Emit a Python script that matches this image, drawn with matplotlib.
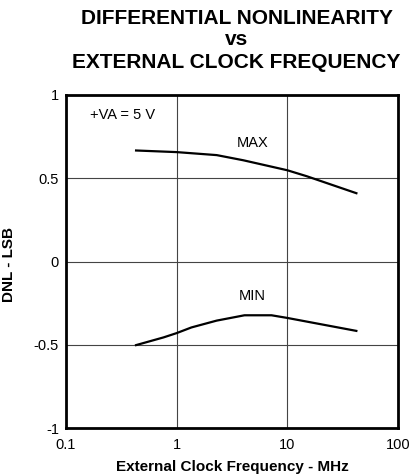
import matplotlib
matplotlib.use("Agg")
import matplotlib.pyplot as plt

plt.rcParams['font.family'] = ['Liberation Sans', 'DejaVu Sans']

# DNL vs external clock frequency (MHz, LSB)
max_freq = [0.42, 1.0, 2.3, 4.0, 10.0, 15.0, 43.0]
max_dnl = [0.667, 0.657, 0.639, 0.608, 0.548, 0.512, 0.408]
min_freq = [0.42, 0.76, 1.0, 1.36, 2.3, 4.1, 7.2, 10.0, 43.0]
min_dnl = [-0.504, -0.456, -0.43, -0.396, -0.355, -0.323, -0.323, -0.339, -0.418]

x_ticks = [0.1, 1, 10, 100]
x_tick_labels = ["0.1", "1", "10", "100"]
y_ticks = [-1, -0.5, 0, 0.5, 1]
y_tick_labels = ["-1", "-0.5", "0", "0.5", "1"]

fig = plt.figure(figsize=(4.13, 4.74), dpi=100)
ax = fig.add_axes([66 / 413, 1 - 428 / 474, 332 / 413, 333 / 474])

ax.plot(max_freq, max_dnl, color="black", lw=1.6, solid_capstyle="butt")
ax.plot(min_freq, min_dnl, color="black", lw=1.6, solid_capstyle="butt")

ax.set_xscale("log")
ax.set_xlim(0.1, 100)
ax.set_ylim(-1, 1)
ax.set_xticks(x_ticks)
ax.set_xticklabels(x_tick_labels)
ax.set_yticks(y_ticks)
ax.set_yticklabels(y_tick_labels)
ax.minorticks_off()
ax.tick_params(length=0, labelsize=10.5)
ax.tick_params(axis="x", pad=7)
ax.tick_params(axis="y", pad=5)
ax.grid(True, color="#444444", lw=0.8)
ax.set_axisbelow(True)
for s in ax.spines.values():
    s.set_linewidth(2)
    s.set_color("black")

ax.text(4.9, 0.71, "MAX", fontsize=10.5, ha="center", va="center")
ax.text(4.8, -0.21, "MIN", fontsize=10.5, ha="center", va="center")
ax.text(0.165, 0.88, "+VA = 5 V", fontsize=10.5, ha="left", va="center")

ax.set_xlabel("External Clock Frequency - MHz", fontsize=11, fontweight="bold")
ax.xaxis.set_label_coords(0.5, -0.095)
ax.set_ylabel("DNL - LSB", fontsize=11, fontweight="bold")
ax.yaxis.set_label_coords(-0.15, 0.49)

fig.text(0.573, 0.961, "DIFFERENTIAL NONLINEARITY", fontsize=15, fontweight="bold",
         ha="center", va="center")
fig.text(0.573, 0.917, "vs", fontsize=15, fontweight="bold", ha="center", va="center")
fig.text(0.573, 0.869, "EXTERNAL CLOCK FREQUENCY", fontsize=15, fontweight="bold",
         ha="center", va="center")

fig.savefig("out.png", dpi=100)
